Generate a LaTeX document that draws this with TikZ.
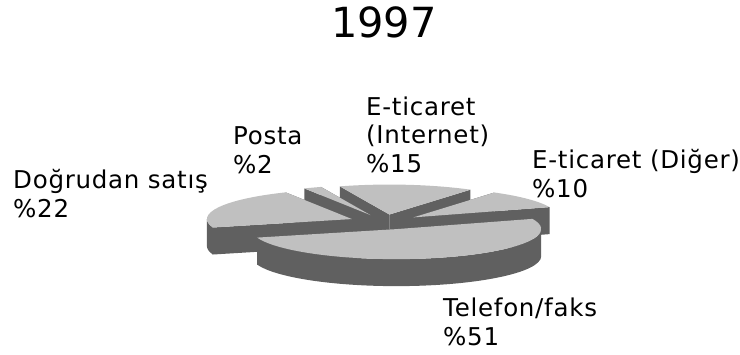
\documentclass[tikz,border=0pt]{standalone}
\usepackage{fontspec}
\setmainfont{DejaVu Sans}
\newfontfamily\lblfont{DejaVu Sans}[LetterSpace=3]
\usetikzlibrary{calc}

\definecolor{piegray}{RGB}{192,192,192}
\definecolor{piedark}{RGB}{96,96,96}
\tikzset{
  pietop/.style={fill=piegray},
  pieside/.style={fill=piedark},
  lbl/.style={anchor=base west,align=left,inner sep=0pt,
    font=\lblfont\fontsize{24.5}{28.5}\selectfont},
  yearlbl/.style={anchor=base,inner sep=0pt,font=\fontsize{41.5}{48}\selectfont}
}

\begin{document}
\begin{tikzpicture}[x=1pt,y=1pt]
  \useasboundingbox (0,0) rectangle (740,-354);
  \coordinate (c) at (385,-222);
  % slices from back to front: start/end angle, then the visible part of the rim
  \foreach \a/\b/\ra/\rb in {56/110/0/0, 110/117.2/0/0, 20/56/0/0,
      117.2/196.4/180/196.4, -163.6/20/196.4/360} {
    \pgfmathsetmacro\m{(\a+\b)/2}
    \coordinate (o) at ($(c)+(\m:36 and 7.5)$);
    \fill[pieside] (o) -- ++(\a:145 and 30) -- ++(0,-27) -- ($(o)+(0,-27)$) -- cycle;
    \fill[pieside] (o) -- ++(\b:145 and 30) -- ++(0,-27) -- ($(o)+(0,-27)$) -- cycle;
    \ifdim\ra pt<\rb pt
      \fill[pieside] ($(o)+(\ra:145 and 30)$)
        arc[start angle=\ra,end angle=\rb,x radius=145,y radius=30] -- ++(0,-27)
        arc[start angle=\rb,end angle=\ra,x radius=145,y radius=30] -- cycle;
    \fi
    \fill[pietop] (o) -- ++(\a:145 and 30)
      arc[start angle=\a,end angle=\b,x radius=145,y radius=30] -- cycle;
  }

  % labels, placed at the baseline of their last line
  \node[yearlbl] (year) at (384,-37) {1997};
  \node[lbl] (dogrudan) at (13,-217) {Doğrudan satış\\\%22};
  \node[lbl] (posta) at (233,-173) {Posta\\\%2};
  \node[lbl] (internet) at (366,-172) {E-ticaret\\(Internet)\\\%15};
  \node[lbl] (diger) at (532,-197) {E-ticaret (Diğer)\\\%10};
  \node[lbl] (telefon) at (443,-345) {Telefon/faks\\\%51};
\end{tikzpicture}
\end{document}
